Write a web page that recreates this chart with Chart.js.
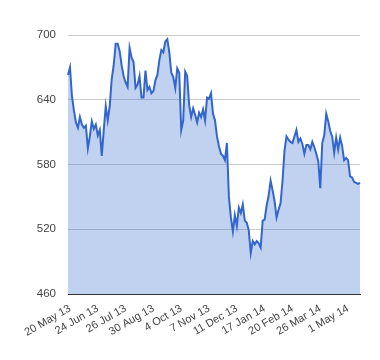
<!DOCTYPE html>
<html>
<head>
<meta charset="utf-8">
<script src="https://cdn.jsdelivr.net/npm/chart.js@4.4.1/dist/chart.umd.min.js"></script>
<style>
  html, body { margin: 0; padding: 0; background: #fff; }
  canvas { display: block; }
</style>
</head>
<body>
<canvas id="myChart" width="380" height="360"></canvas>
<script>
// tick labels shown under the x axis, one every 14 samples starting at sample 1
const tickLabels = [
    '20 May 13', '24 Jun 13', '26 Jul 13', '30 Aug 13', '4 Oct 13', '7 Nov 13',
    '11 Dec 13', '17 Jan 14', '20 Feb 14', '26 Mar 14', '1 May 14'
];
const firstTick = 1;
const tickEvery = 14;

// closing prices, May 2013 - May 2014
const prices = [
    663, 670, 643, 630, 619, 614, 624, 617, 614, 616,
    595, 606, 620, 613, 617, 607, 612, 588, 612, 634,
    621, 634, 659, 672, 692, 692, 685, 672, 662, 656,
    652, 688, 679, 675, 651, 654, 662, 642, 642, 667,
    649, 652, 646, 648, 658, 663, 677, 686, 684, 694,
    696, 684, 665, 661, 651, 669, 665, 612, 621, 666,
    662, 635, 624, 632, 626, 619, 628, 624, 631, 621,
    642, 641, 646, 627, 621, 606, 597, 590, 588, 584,
    600, 550, 531, 518, 533, 523, 540, 535, 543, 528,
    526, 519, 498, 509, 506, 509, 507, 503, 528, 529,
    542, 551, 565, 556, 546, 531, 538, 544, 565, 593,
    606, 603, 601, 600, 606, 612, 601, 604, 599, 590,
    598, 598, 594, 601, 596, 590, 583, 558, 600, 607,
    627, 620, 611, 606, 591, 605, 594, 605, 597, 584,
    586, 584, 569, 568, 564, 563, 562, 563
];

const yTicks = [460, 520, 580, 640, 700];

const labels = prices.map((p, i) => i);

const data = {
    labels: labels,
    datasets: [{
        data: prices,
        borderColor: '#3366cc',
        backgroundColor: 'rgba(51, 102, 204, 0.3)',
        borderWidth: 2,
        pointRadius: 0,
        tension: 0,
        fill: 'start'
    }]
};

const config = {
    type: 'line',
    data: data,
    options: {
        responsive: false,
        animation: false,
        layout: { padding: { top: 35, right: 20, left: 0, bottom: 0 } },
        plugins: { legend: { display: false }, tooltip: { enabled: false } },
        scales: {
            x: {
                grid: { display: false, drawTicks: false },
                border: { display: true, color: '#333', width: 1 },
                ticks: {
                    autoSkip: false,
                    minRotation: 30,
                    maxRotation: 30,
                    padding: 8,
                    color: '#444',
                    font: { family: 'Liberation Sans, Arial', size: 11 },
                    callback: function (value, index) {
                        const k = index - firstTick;
                        if (k >= 0 && k % tickEvery === 0 && tickLabels[k / tickEvery]) {
                            return tickLabels[k / tickEvery];
                        }
                        return null;
                    }
                },
                afterFit: function (scale) { scale.height = 66; }
            },
            y: {
                min: yTicks[0],
                max: yTicks[yTicks.length - 1],
                afterBuildTicks: function (scale) {
                    scale.ticks = yTicks.map(v => ({ value: v }));
                },
                grid: { color: '#cccccc', drawTicks: false },
                border: { display: false },
                ticks: {
                    padding: 12,
                    color: '#444',
                    font: { family: 'Liberation Sans, Arial', size: 11.5 }
                },
                afterFit: function (scale) { scale.width = 68; }
            }
        }
    }
};

new Chart(
    document.getElementById('myChart'),
    config
);
</script>
</body>
</html>
